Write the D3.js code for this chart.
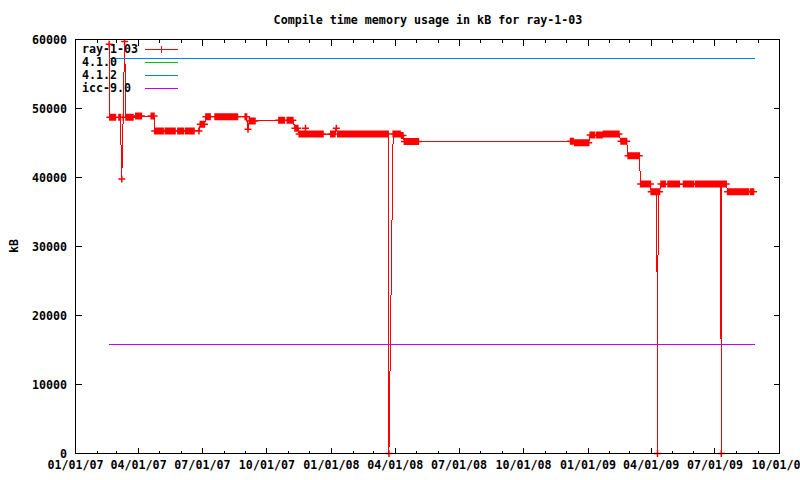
<!DOCTYPE html>
<html><head><meta charset="utf-8">
<script src="https://cdn.jsdelivr.net/npm/d3@7"></script>
<style>
body{margin:0;background:#fff}
svg{display:block}
text{font-family:"DejaVu Sans Mono","Liberation Mono",monospace;font-size:11.66px;font-weight:bold;fill:#000}
</style></head><body>
<svg id="c" width="800" height="480"></svg>
<script>
const chartTitle = "Compile time memory usage in kB for ray-1-03";
const yAxisLabel = "kB";
const xTickDates = ["2007-01-01","2007-04-01","2007-07-01","2007-10-01","2008-01-01","2008-04-01","2008-07-01","2008-10-01","2009-01-01","2009-04-01","2009-07-01","2009-10-01"];
const yTickValues = [0,10000,20000,30000,40000,50000,60000];
const seriesNames = ["ray-1-03","4.1.0","4.1.2","icc-9.0"];
const seriesColors = ["#ff0000","#00c000","#0080ff","#c000ff"];

const rayPoints = [
["2007-02-18",59300],
["2007-02-19",48750],["2007-02-21",48750],["2007-02-23",48750],["2007-02-25",48750],["2007-02-27",48750],
["2007-03-04",48750],["2007-03-06",48750],["2007-03-08",39800],["2007-03-10",48750],["2007-03-12",59700],["2007-03-14",48750],
["2007-03-16",48750],["2007-03-18",48750],["2007-03-20",48750],["2007-03-22",48750],["2007-03-24",48750],
["2007-03-28",48900],["2007-03-30",48900],["2007-04-01",48900],["2007-04-03",48900],["2007-04-05",48900],
["2007-04-19",48900],["2007-04-21",48900],["2007-04-23",48900],
["2007-04-24",46750],["2007-04-26",46750],["2007-04-28",46750],["2007-04-30",46750],["2007-05-02",46750],["2007-05-04",46750],["2007-05-06",46750],
["2007-05-09",46750],["2007-05-11",46750],["2007-05-13",46750],["2007-05-15",46750],["2007-05-17",46750],["2007-05-19",46750],["2007-05-21",46750],["2007-05-23",46750],
["2007-05-27",46750],["2007-05-29",46750],["2007-05-31",46750],["2007-06-02",46750],["2007-06-04",46750],
["2007-06-07",46750],["2007-06-09",46750],["2007-06-11",46750],["2007-06-13",46750],["2007-06-15",46750],["2007-06-17",46750],["2007-06-19",46750],
["2007-06-26",46750],
["2007-06-28",47700],["2007-06-30",47700],["2007-07-02",47700],["2007-07-04",47700],
["2007-07-06",48800],["2007-07-08",48800],["2007-07-10",48800],["2007-07-12",48800],
["2007-07-19",48800],["2007-07-21",48800],["2007-07-23",48800],["2007-07-25",48800],["2007-07-27",48800],["2007-07-29",48800],["2007-07-31",48800],
["2007-08-02",48800],["2007-08-04",48800],["2007-08-06",48800],["2007-08-08",48800],["2007-08-10",48800],["2007-08-12",48800],["2007-08-14",48800],["2007-08-16",48800],["2007-08-18",48800],["2007-08-20",48800],
["2007-08-31",48800],["2007-09-02",48800],["2007-09-04",47000],
["2007-09-06",48200],["2007-09-08",48200],["2007-09-10",48200],["2007-09-12",48200],["2007-09-14",48200],
["2007-10-18",48300],["2007-10-20",48300],["2007-10-22",48300],["2007-10-24",48300],["2007-10-26",48300],
["2007-10-30",48300],["2007-11-01",48300],["2007-11-03",48300],["2007-11-05",48300],["2007-11-07",48300],
["2007-11-10",47150],["2007-11-12",47150],["2007-11-14",47150],
["2007-11-16",46300],["2007-11-18",46300],["2007-11-20",46300],["2007-11-22",46300],["2007-11-24",46300],["2007-11-25",47150],
["2007-11-26",46300],["2007-11-28",46300],["2007-11-30",46300],["2007-12-02",46300],["2007-12-04",46300],["2007-12-06",46300],["2007-12-08",46300],
["2007-12-10",46300],["2007-12-12",46300],["2007-12-14",46300],["2007-12-16",46300],["2007-12-18",46300],["2007-12-20",46300],
["2007-12-31",46300],["2008-01-02",46300],["2008-01-04",46300],["2008-01-06",46300],["2008-01-08",47150],
["2008-01-10",46300],["2008-01-12",46300],["2008-01-14",46300],["2008-01-16",46300],["2008-01-18",46300],["2008-01-20",46300],["2008-01-22",46300],
["2008-01-24",46300],["2008-01-26",46300],["2008-01-28",46300],["2008-01-30",46300],["2008-02-01",46300],["2008-02-03",46300],["2008-02-05",46300],
["2008-02-07",46300],["2008-02-09",46300],["2008-02-11",46300],["2008-02-13",46300],["2008-02-15",46300],["2008-02-17",46300],["2008-02-19",46300],
["2008-02-21",46300],["2008-02-23",46300],["2008-02-25",46300],
["2008-02-27",46300],
["2008-02-29",46300],["2008-03-02",46300],["2008-03-04",46300],["2008-03-06",46300],["2008-03-08",46300],["2008-03-10",46300],["2008-03-12",46300],
["2008-03-14",46300],["2008-03-16",46300],["2008-03-18",46300],["2008-03-20",46300],["2008-03-22",46300],
["2008-03-23",0],
["2008-03-29",46300],["2008-03-31",46300],["2008-04-02",46300],["2008-04-04",46300],["2008-04-06",46300],["2008-04-08",46300],
["2008-04-10",46100],["2008-04-12",46100],
["2008-04-14",45200],["2008-04-16",45200],["2008-04-18",45200],["2008-04-20",45200],["2008-04-22",45200],["2008-04-24",45200],
["2008-04-26",45200],["2008-04-28",45200],["2008-04-30",45200],["2008-05-02",45200],["2008-05-04",45200],
["2008-12-07",45250],["2008-12-09",45250],["2008-12-11",45250],
["2008-12-13",45050],["2008-12-15",45050],["2008-12-17",45050],["2008-12-19",45050],["2008-12-21",45050],["2008-12-23",45050],
["2008-12-25",45050],["2008-12-27",45050],["2008-12-29",45050],["2008-12-31",45050],["2009-01-02",45050],
["2009-01-04",46150],["2009-01-06",46150],["2009-01-08",46150],["2009-01-10",46150],
["2009-01-13",46150],["2009-01-15",46150],["2009-01-17",46150],["2009-01-19",46150],["2009-01-21",46150],
["2009-01-23",46300],["2009-01-25",46300],["2009-01-27",46300],["2009-01-29",46300],["2009-01-31",46300],["2009-02-02",46300],
["2009-02-04",46300],["2009-02-06",46300],["2009-02-08",46300],["2009-02-10",46300],["2009-02-12",46300],["2009-02-14",46300],
["2009-02-17",45250],["2009-02-19",45250],["2009-02-21",45250],["2009-02-23",45250],["2009-02-25",45250],
["2009-02-27",43150],["2009-03-01",43150],["2009-03-03",43150],["2009-03-05",43150],["2009-03-07",43150],["2009-03-09",43150],
["2009-03-11",43150],["2009-03-13",43150],["2009-03-15",43150],
["2009-03-17",39050],["2009-03-19",39050],["2009-03-21",39050],["2009-03-23",39050],["2009-03-25",39050],["2009-03-27",39050],
["2009-03-29",39050],["2009-03-31",39050],
["2009-04-01",37950],["2009-04-03",37950],["2009-04-05",37950],["2009-04-07",37950],["2009-04-09",37950],
["2009-04-10",0],
["2009-04-11",37950],["2009-04-13",37950],
["2009-04-15",39050],["2009-04-17",39050],["2009-04-19",39050],["2009-04-21",39050],
["2009-04-25",39050],["2009-04-27",39050],["2009-04-29",39050],["2009-05-01",39050],["2009-05-03",39050],["2009-05-05",39050],
["2009-05-07",39050],["2009-05-09",39050],["2009-05-11",39050],
["2009-05-17",39050],["2009-05-19",39050],
["2009-05-21",39050],["2009-05-23",39050],["2009-05-25",39050],["2009-05-27",39050],["2009-05-29",39050],["2009-05-31",39050],
["2009-06-03",39050],["2009-06-05",39050],["2009-06-07",39050],["2009-06-09",39050],["2009-06-11",39050],["2009-06-13",39050],
["2009-06-15",39050],["2009-06-17",39050],["2009-06-19",39050],["2009-06-21",39050],["2009-06-23",39050],["2009-06-25",39050],
["2009-06-27",39050],["2009-06-29",39050],["2009-07-01",39050],["2009-07-03",39050],["2009-07-05",39050],["2009-07-07",39050],
["2009-07-09",39050],
["2009-07-10",0],
["2009-07-11",39050],["2009-07-13",39050],["2009-07-15",39050],["2009-07-17",39050],
["2009-07-19",37950],["2009-07-21",37950],["2009-07-23",37950],["2009-07-25",37950],["2009-07-27",37950],["2009-07-29",37950],
["2009-07-31",37950],["2009-08-02",37950],["2009-08-04",37950],["2009-08-06",37950],["2009-08-08",37950],["2009-08-10",37950],
["2009-08-12",37950],["2009-08-14",37950],["2009-08-16",37950],["2009-08-18",37950],
["2009-08-21",37950],["2009-08-23",37950],["2009-08-25",37950]
];
const gcc410Points = [["2007-02-18",57300],["2009-08-27",57300]];
const gcc412Points = [["2007-02-18",57300],["2009-08-27",57300]];
const icc90Points  = [["2007-02-18",15850],["2009-08-27",15850]];

const parse = d3.timeParse("%Y-%m-%d");
const fmt = d3.timeFormat("%m/%d/%y");
const svg = d3.select("#c");
svg.append("rect").attr("width",800).attr("height",480).attr("fill","#fff");

const x = d3.scaleTime().domain([parse(xTickDates[0]), parse(xTickDates[xTickDates.length-1])]).range([75.5, 779.5]);
const y = d3.scaleLinear().domain([0, 60000]).range([453.5, 39.5]);

const toXY = pts => pts.map(p => [x(parse(p[0])), y(p[1])]);
const line = d3.line();

// plot area clip
svg.append("defs").append("clipPath").attr("id","clip")
  .append("rect").attr("x",75).attr("y",39).attr("width",705).attr("height",420);

const plot = svg.append("g").attr("clip-path","url(#clip)");

// legend
const legendRows = [49, 62, 75, 88];
seriesNames.forEach((n,i)=>{
  svg.append("text").attr("x",82).attr("y",legendRows[i]).attr("dy","0.36em").text(n);
  svg.append("line").attr("x1",145).attr("x2",178).attr("y1",legendRows[i]+0.5).attr("y2",legendRows[i]+0.5)
    .attr("stroke",seriesColors[i]).attr("stroke-width",1).attr("shape-rendering","crispEdges");
});
svg.append("path").attr("d",`M${158},${legendRows[0]+0.5}H${165}M${161.5},${legendRows[0]-3}V${legendRows[0]+4}`)
  .attr("stroke",seriesColors[0]).attr("fill","none").attr("shape-rendering","crispEdges");

// ray-1-03 line + points
const rayXY = toXY(rayPoints);
plot.append("path").attr("d", line(rayXY)).attr("fill","none").attr("stroke",seriesColors[0])
  .attr("stroke-width",1).attr("shape-rendering","crispEdges");
plot.append("path").attr("d", rayXY.map(([px,py])=>`M${px-3.5},${py}H${px+3.5}M${px},${py-3.5}V${py+3.5}`).join(""))
  .attr("fill","none").attr("stroke",seriesColors[0]).attr("stroke-width",1.5);

// other series (lines)
[[gcc410Points,1],[gcc412Points,2],[icc90Points,3]].forEach(([pts,i])=>{
  plot.append("path").attr("d", line(toXY(pts))).attr("fill","none").attr("stroke",seriesColors[i])
    .attr("stroke-width",1).attr("shape-rendering","crispEdges");
});

// border and ticks
const ax = svg.append("g").attr("stroke","#000").attr("stroke-width",1).attr("shape-rendering","crispEdges").attr("fill","none");
ax.append("rect").attr("x",75.5).attr("y",39.5).attr("width",704).attr("height",414);
// y ticks (mirrored)
yTickValues.forEach(v=>{
  const py = Math.round(y(v)-0.5)+0.5;
  ax.append("line").attr("x1",75.5).attr("x2",81.5).attr("y1",py).attr("y2",py);
  ax.append("line").attr("x1",779.5).attr("x2",773.5).attr("y1",py).attr("y2",py);
});
// x major ticks
xTickDates.forEach(d=>{
  const px = Math.round(x(parse(d))-0.5)+0.5;
  ax.append("line").attr("x1",px).attr("x2",px).attr("y1",453.5).attr("y2",447.5);
  ax.append("line").attr("x1",px).attr("x2",px).attr("y1",39.5).attr("y2",45.5);
});
// x minor ticks (monthly)
d3.timeMonth.range(parse(xTickDates[0]), parse(xTickDates[xTickDates.length-1])).forEach(d=>{
  if (d.getMonth()%3===0) return;
  const px = Math.round(x(d)-0.5)+0.5;
  ax.append("line").attr("x1",px).attr("x2",px).attr("y1",453.5).attr("y2",450.5);
  ax.append("line").attr("x1",px).attr("x2",px).attr("y1",39.5).attr("y2",42.5);
});

// tick labels
yTickValues.forEach(v=>{
  svg.append("text").attr("x",67).attr("y",y(v)).attr("dy","0.36em").attr("text-anchor","end").text(v);
});
xTickDates.forEach(d=>{
  svg.append("text").attr("x",x(parse(d))).attr("y",468.5).attr("text-anchor","middle").text(fmt(parse(d)));
});

// title and axis label
svg.append("text").attr("x",428).attr("y",19.5).attr("dy","0.36em").attr("text-anchor","middle").text(chartTitle);
svg.append("text").attr("transform","translate(14,246) rotate(-90)").attr("dy","0.36em").attr("text-anchor","middle").text(yAxisLabel);
</script>
</body></html>
